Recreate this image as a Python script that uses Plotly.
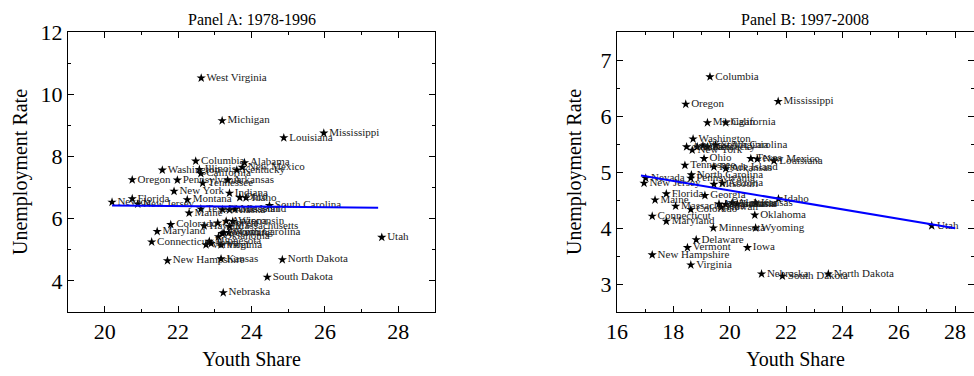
import numpy as np
import plotly.graph_objects as go

# Panel A: 1978-1996 (youth share %, unemployment rate %)
states_a = [
    "West Virginia", "Michigan", "Louisiana", "Mississippi", "Columbia", "Alabama",
    "New Mexico", "Kentucky", "Washington", "Illinois", "California", "Oregon",
    "Pennsylvania", "Arkansas", "Tennessee", "New York", "Indiana", "Ohio", "Idaho",
    "Florida", "Montana", "New Jersey", "Nevada", "South Carolina", "Rhode Island",
    "Texas", "Alaska", "Missouri", "Maine", "Colorado", "Wisconsin", "Massachusetts",
    "Hawaii", "Georgia", "Arizona", "Maryland", "North Carolina", "Delaware",
    "Connecticut", "Minnesota", "Vermont", "Virginia", "Oklahoma", "Utah",
    "New Hampshire", "Kansas", "North Dakota", "South Dakota", "Nebraska", "Iowa",
    "Wyoming",
]
youth_a = [
    22.63, 23.20, 24.88, 25.97, 22.48, 23.81,
    23.75, 23.60, 21.57, 22.58, 22.62, 20.75,
    21.98, 23.35, 22.67, 21.89, 23.40, 23.68, 23.85,
    20.75, 22.25, 20.90, 20.20, 24.49, 23.21,
    22.62, 23.40, 23.55, 22.30, 21.80, 23.49, 23.40,
    22.71, 23.08, 23.31, 21.43, 23.38, 23.20,
    21.28, 22.85, 22.76, 23.17, 23.10, 27.55,
    21.71, 23.17, 24.84, 24.43, 23.23, 22.90,
    23.25,
]
unemp_a = [
    10.52, 9.15, 8.60, 8.75, 7.85, 7.80,
    7.65, 7.56, 7.56, 7.58, 7.45, 7.25,
    7.24, 7.24, 7.14, 6.88, 6.82, 6.68, 6.67,
    6.64, 6.61, 6.47, 6.53, 6.42, 6.29,
    6.31, 6.28, 6.30, 6.18, 5.81, 5.91, 5.75,
    5.77, 5.86, 5.92, 5.59, 5.55, 5.52,
    5.25, 5.27, 5.16, 5.16, 5.42, 5.40,
    4.65, 4.71, 4.68, 4.12, 3.62, 5.20,
    5.55,
]

# Panel B: 1997-2008
states_b = [
    "Columbia", "Oregon", "Mississippi", "Michigan", "California", "Washington",
    "Alaska", "New York", "Illinois", "Kentucky", "South Carolina", "West Virginia",
    "Ohio", "Texas", "New Mexico", "Louisiana", "Tennessee", "Rhode Island",
    "Arkansas", "North Carolina", "Pennsylvania", "Nevada", "New Jersey", "Arizona",
    "Missouri", "Florida", "Georgia", "Idaho", "Maine", "Massachusetts", "Colorado",
    "Montana", "Wisconsin", "Alabama", "Indiana", "Kansas", "Hawaii", "Oklahoma",
    "Connecticut", "Maryland", "Minnesota", "Wyoming", "Delaware", "Vermont", "Iowa",
    "New Hampshire", "Virginia", "Nebraska", "South Dakota", "North Dakota", "Utah",
]
youth_b = [
    19.30, 18.44, 21.72, 19.21, 19.86, 18.70,
    18.47, 18.67, 18.85, 19.21, 19.50, 19.05,
    19.09, 20.75, 20.98, 21.57, 18.41, 19.44,
    19.86, 18.64, 18.62, 17.02, 16.96, 19.74,
    19.44, 17.75, 19.12, 21.73, 17.35, 18.08, 18.62,
    19.62, 19.86, 20.09, 20.27, 20.92, 19.70, 20.89,
    17.25, 17.75, 19.42, 20.92, 18.81, 18.50, 20.63,
    17.25, 18.62, 21.13, 21.87, 23.50, 27.17,
]
unemp_b = [
    6.70, 6.21, 6.26, 5.88, 5.88, 5.59,
    5.45, 5.39, 5.45, 5.45, 5.48, 5.47,
    5.24, 5.24, 5.23, 5.20, 5.12, 5.09,
    5.06, 4.95, 4.89, 4.89, 4.80, 4.80,
    4.78, 4.61, 4.58, 4.52, 4.50, 4.39, 4.33,
    4.43, 4.42, 4.45, 4.43, 4.45, 4.37, 4.23,
    4.21, 4.12, 4.00, 4.00, 3.79, 3.65, 3.65,
    3.52, 3.34, 3.18, 3.14, 3.18, 4.04,
]

# x-extent over which each fitted line is drawn
fit_span_a = [20.2, 27.45]
fit_span_b = [16.85, 28.0]

SERIF = "Liberation Serif"
W, H = 974, 376

fig = go.Figure()


def add_panel(xs, ys, names, span, xref, yref):
    fig.add_trace(go.Scatter(
        x=xs, y=ys, text=names, mode="markers+text",
        textposition="middle right",
        textfont=dict(family=SERIF, size=11, color="#1a1a1a"),
        marker=dict(symbol="star", size=7, color="black", line=dict(width=0)),
        xaxis=xref, yaxis=yref, showlegend=False, cliponaxis=False,
    ))
    slope, intercept = np.polyfit(xs, ys, 1)
    fx = np.array(span)
    fig.add_trace(go.Scatter(
        x=fx, y=intercept + slope * fx, mode="lines",
        line=dict(color="#0000ff", width=2),
        xaxis=xref, yaxis=yref, showlegend=False,
    ))


add_panel(youth_a, unemp_a, states_a, fit_span_a, "x", "y")
add_panel(youth_b, unemp_b, states_b, fit_span_b, "x2", "y2")

tickfont = dict(family=SERIF, size=22, color="black")
titlefont = dict(family=SERIF, size=20, color="black")


def axis(rng, dtick, minor, domain, anchor, title, standoff):
    return dict(
        range=rng, dtick=dtick, tick0=0, domain=domain, anchor=anchor,
        automargin=False,
        showgrid=False, zeroline=False, showline=True, linecolor="black",
        linewidth=1, mirror="ticks", ticks="inside", ticklen=6, tickcolor="black",
        minor=dict(dtick=minor, ticks="inside", ticklen=3, tickcolor="black",
                   showgrid=False),
        tickfont=tickfont, title=dict(text=title, font=titlefont, standoff=standoff),
    )


dom_a = [68 / W, 435 / W]
dom_b = [617 / W, 1.0]

fig.update_layout(
    width=W, height=H,
    margin=dict(l=0, r=0, t=32, b=64),
    paper_bgcolor="white", plot_bgcolor="white",
    font=dict(family=SERIF, color="black"),
    xaxis=axis([19, 29], 2, 1, dom_a, "y", "Youth Share", 8),
    yaxis=axis([3, 12], 2, 1, [0, 1], "x", "Unemployment Rate", 7),
    xaxis2=axis([16, 28.67], 2, 1, dom_b, "y2", "Youth Share", 8),
    yaxis2=axis([2.5, 7.5], 1, 0.5, [0, 1], "x2", "Unemployment Rate", 13),
    annotations=[
        dict(text="Panel A: 1978-1996", x=(dom_a[0] + dom_a[1]) / 2, y=1,
             xref="paper", yref="paper", xanchor="center", yanchor="bottom",
             yshift=2, showarrow=False, font=dict(family=SERIF, size=16, color="black")),
        dict(text="Panel B: 1997-2008", x=805 / W, y=1,
             xref="paper", yref="paper", xanchor="center", yanchor="bottom",
             yshift=2, showarrow=False, font=dict(family=SERIF, size=16, color="black")),
    ],
)

fig.write_html("out.html")
